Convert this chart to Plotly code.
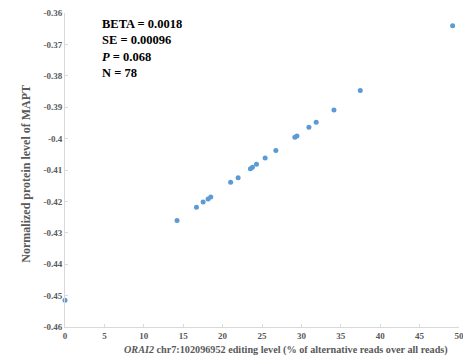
import plotly.graph_objects as go

editing_level = [0, 14.22, 16.68, 17.53, 18.16, 18.50, 21.02, 21.97, 23.53, 23.79, 24.30,
                 25.40, 26.76, 29.17, 29.43, 30.95, 31.88, 34.13, 37.47, 49.19]
protein_level = [-0.4515, -0.4261, -0.4219, -0.4202, -0.4192, -0.4186, -0.4139, -0.4125,
                 -0.4096, -0.4091, -0.4082, -0.4062, -0.4038, -0.3996, -0.3992, -0.3964,
                 -0.3948, -0.3909, -0.3847, -0.3641]
y_ticks = [-0.36, -0.37, -0.38, -0.39, -0.40, -0.41, -0.42, -0.43, -0.44, -0.45, -0.46]
y_tick_labels = ["-0.36", "-0.37", "-0.38", "-0.39", "-0.4", "-0.41", "-0.42", "-0.43",
                 "-0.44", "-0.45", "-0.46"]
x_ticks = [0, 5, 10, 15, 20, 25, 30, 35, 40, 45, 50]
stats_lines = ["BETA = 0.0018", "SE = 0.00096", "<i>P</i> = 0.068", "N = 78"]
x_title = "<b><i>ORAI2</i> chr7:102096952 editing level (% of alternative reads over all reads)</b>"
y_title = "<b>Normalized protein level of MAPT</b>"

FONT = "Liberation Serif"
GRAY = "#595959"

fig = go.Figure()
fig.add_trace(go.Scatter(
    x=editing_level, y=protein_level, mode="markers",
    marker=dict(color="#5B9BD5", size=5, symbol="circle"),
    showlegend=False, hoverinfo="x+y", cliponaxis=False))

fig.update_layout(
    width=463, height=361,
    margin=dict(l=65, r=4, t=13, b=34),
    paper_bgcolor="white", plot_bgcolor="white",
    font=dict(family=FONT, color=GRAY),
    xaxis=dict(range=[0, 50.0001], tickvals=x_ticks, showgrid=False, zeroline=False,
               showline=True, linecolor="#d9d9d9", linewidth=1,
               ticks="inside", ticklen=3, tickcolor="#d9d9d9",
               ticklabeloverflow="allow", automargin=False,
               tickfont=dict(family=FONT, size=9, color=GRAY, weight="bold")),
    yaxis=dict(range=[-0.46, -0.36], tickvals=y_ticks, ticktext=y_tick_labels,
               showgrid=False, zeroline=False,
               showline=True, linecolor="#d9d9d9", linewidth=1,
               ticks="inside", ticklen=3, tickcolor="#d9d9d9",
               ticklabeloverflow="allow", automargin=False,
               tickfont=dict(family=FONT, size=9, color=GRAY, weight="bold")),
)

fig.add_annotation(
    xref="paper", yref="paper", x=0.09, y=0.995, xanchor="left", yanchor="top",
    text="<br>".join("<b>" + s + "</b>" for s in stats_lines),
    showarrow=False, align="left",
    font=dict(family=FONT, size=12.5, color="black"))

fig.add_annotation(
    xref="paper", yref="paper", x=0.562, y=-0.072, xanchor="center", yanchor="middle",
    text=x_title, showarrow=False,
    font=dict(family=FONT, size=10.2, color=GRAY))

fig.add_annotation(
    xref="paper", yref="paper", x=-0.1, y=0.487, xanchor="center", yanchor="middle",
    text=y_title, showarrow=False, textangle=-90,
    font=dict(family=FONT, size=12, color=GRAY))

fig.write_html("out.html", config={"displayModeBar": False},
               post_script="document.body.style.margin='0';document.body.style.overflow='hidden';")
